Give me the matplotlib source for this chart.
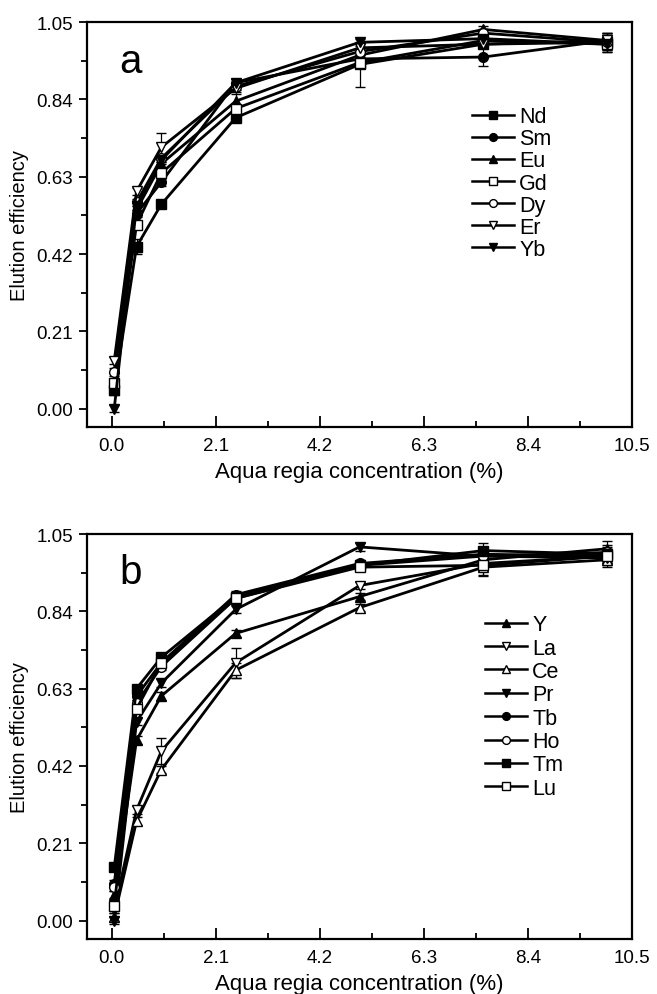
import numpy as np
import matplotlib
matplotlib.use('Agg')
import matplotlib.pyplot as plt
from matplotlib.ticker import MultipleLocator

plt.rcParams['font.family'] = ['Liberation Sans', 'DejaVu Sans']

# aqua regia concentration (%)
conc = [0.05, 0.5, 1.0, 2.5, 5.0, 7.5, 10.0]

# panel a
names_a = ['Nd', 'Sm', 'Eu', 'Gd', 'Dy', 'Er', 'Yb']
nd = [0.05, 0.44, 0.555, 0.79, 0.935, 0.99, 0.995]
sm = [0.06, 0.53, 0.615, 0.885, 0.95, 0.955, 1.0]
eu = [0.05, 0.54, 0.665, 0.835, 0.96, 1.03, 1.0]
gd = [0.07, 0.50, 0.64, 0.815, 0.94, 1.0, 0.99]
dy = [0.10, 0.56, 0.68, 0.875, 0.97, 1.02, 0.995]
er = [0.13, 0.59, 0.71, 0.87, 0.98, 0.99, 1.0]
yb = [0.0, 0.55, 0.675, 0.885, 0.995, 1.005, 0.99]
err_nd = [0.01, 0.02, 0.01, 0.01, 0.06, 0.01, 0.02]
err_sm = [0.01, 0.01, 0.01, 0.01, 0.01, 0.025, 0.02]
err_eu = [0.01, 0.01, 0.01, 0.02, 0.01, 0.01, 0.02]
err_gd = [0.01, 0.01, 0.01, 0.01, 0.01, 0.01, 0.02]
err_dy = [0.01, 0.01, 0.01, 0.01, 0.01, 0.01, 0.02]
err_er = [0.01, 0.01, 0.04, 0.01, 0.01, 0.01, 0.02]
err_yb = [0.01, 0.01, 0.01, 0.01, 0.01, 0.01, 0.02]

# panel b
names_b = ['Y', 'La', 'Ce', 'Pr', 'Tb', 'Ho', 'Tm', 'Lu']
y_ = [0.07, 0.49, 0.61, 0.78, 0.88, 0.98, 1.01]
la = [0.03, 0.30, 0.46, 0.70, 0.91, 0.97, 0.99]
ce = [0.01, 0.27, 0.41, 0.68, 0.85, 0.96, 0.98]
pr = [0.0, 0.54, 0.645, 0.845, 1.015, 0.99, 0.985]
tb = [0.10, 0.61, 0.70, 0.885, 0.97, 0.995, 0.99]
ho = [0.09, 0.59, 0.69, 0.875, 0.965, 0.99, 1.0]
tm = [0.145, 0.63, 0.715, 0.88, 0.965, 1.005, 0.995]
lu = [0.04, 0.575, 0.70, 0.875, 0.96, 0.965, 0.99]
err_y = [0.01, 0.01, 0.01, 0.01, 0.01, 0.02, 0.02]
err_la = [0.01, 0.01, 0.035, 0.04, 0.01, 0.02, 0.02]
err_ce = [0.01, 0.01, 0.01, 0.02, 0.01, 0.02, 0.02]
err_pr = [0.01, 0.01, 0.01, 0.01, 0.01, 0.02, 0.02]
err_tb = [0.01, 0.01, 0.01, 0.01, 0.01, 0.02, 0.02]
err_ho = [0.01, 0.01, 0.01, 0.01, 0.01, 0.02, 0.02]
err_tm = [0.01, 0.01, 0.01, 0.01, 0.01, 0.02, 0.02]
err_lu = [0.01, 0.01, 0.01, 0.01, 0.01, 0.03, 0.02]

# marker style: (marker, facecolor)
styles_a = [('s', 'k'), ('o', 'k'), ('^', 'k'), ('s', 'w'), ('o', 'w'), ('v', 'w'), ('v', 'k')]
styles_b = [('^', 'k'), ('v', 'w'), ('^', 'w'), ('v', 'k'), ('o', 'k'), ('o', 'w'), ('s', 'k'), ('s', 'w')]

fig = plt.figure(figsize=(6.57, 9.95), dpi=100)
ax_a = fig.add_axes([0.1324, 0.5698, 0.8296, 0.407])
ax_b = fig.add_axes([0.1324, 0.0553, 0.8296, 0.407])


def draw_panel(ax, names, series, errs, styles, letter, leg_xy, spacing):
    for name, vals, e, (m, fc) in zip(names, series, errs, styles):
        ax.errorbar(conc, vals, yerr=e, color='k', lw=2.0, marker=m, ms=7,
                    mfc=fc, mec='k', mew=1.0, ecolor='k', elinewidth=0.9,
                    capsize=3.5, capthick=0.9, label=name)
    ax.set_xlim(-0.5, 10.5)
    ax.set_ylim(-0.05, 1.05)
    ax.xaxis.set_major_locator(MultipleLocator(2.1))
    ax.xaxis.set_minor_locator(MultipleLocator(1.05))
    ax.yaxis.set_major_locator(MultipleLocator(0.21))
    ax.yaxis.set_minor_locator(MultipleLocator(0.105))
    ax.xaxis.set_major_formatter(plt.FormatStrFormatter('%.1f'))
    ax.yaxis.set_major_formatter(plt.FormatStrFormatter('%.2f'))
    ax.tick_params(axis='x', which='both', direction='in', labelsize=13.5, pad=7)
    ax.tick_params(axis='x', which='major', length=8, width=1.3)
    ax.tick_params(axis='x', which='minor', length=4, width=1.3)
    ax.tick_params(axis='y', which='both', direction='out', labelsize=13.5, pad=4)
    ax.tick_params(axis='y', which='major', length=6, width=1.3)
    ax.tick_params(axis='y', which='minor', length=4, width=1.3)
    for s in ax.spines.values():
        s.set_linewidth(1.6)
    ax.set_xlabel('Aqua regia concentration (%)', fontsize=16, labelpad=5)
    ax.set_ylabel('Elution efficiency', fontsize=14.5, labelpad=5)
    ax.text(0.08, 0.905, letter, transform=ax.transAxes, fontsize=29,
            ha='center', va='center')
    handles, labels = ax.get_legend_handles_labels()
    handles = [h[0] for h in handles]
    leg = ax.legend(handles, labels, loc='upper left', bbox_to_anchor=leg_xy,
                    frameon=False, fontsize=15.5, handlelength=1.95,
                    handletextpad=0.25, labelspacing=spacing, borderpad=0,
                    borderaxespad=0, markerscale=0.8)
    for ln in leg.get_lines():
        ln.set_linewidth(1.8)


draw_panel(ax_a, names_a, [nd, sm, eu, gd, dy, er, yb],
           [err_nd, err_sm, err_eu, err_gd, err_dy, err_er, err_yb],
           styles_a, 'a', (0.706, 0.792), 0.05)
draw_panel(ax_b, names_b, [y_, la, ce, pr, tb, ho, tm, lu],
           [err_y, err_la, err_ce, err_pr, err_tb, err_ho, err_tm, err_lu],
           styles_b, 'b', (0.730, 0.802), 0.11)

fig.savefig('out.png', dpi=100)
